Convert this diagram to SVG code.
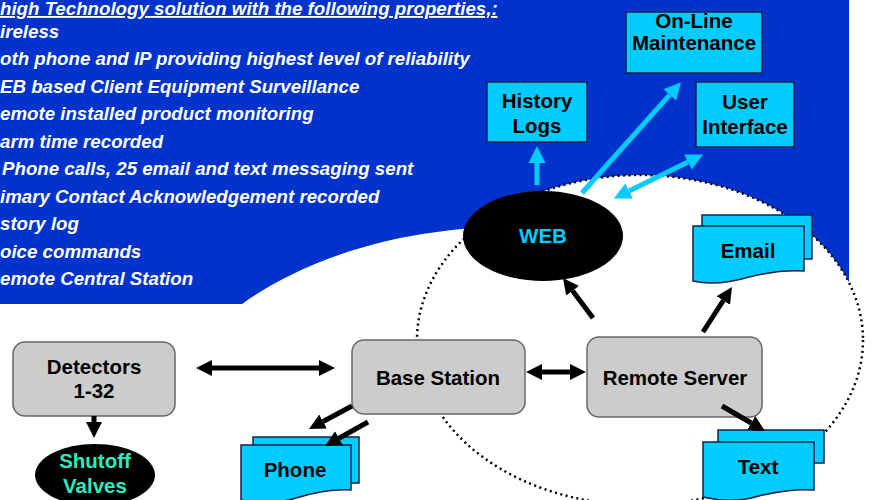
<svg xmlns="http://www.w3.org/2000/svg" width="872" height="500" viewBox="0 0 872 500">
<defs>
<style>
.body{font-family:"Liberation Sans",Arial,sans-serif;font-weight:bold;font-style:italic;font-size:18.7px;fill:#fff}
.lbl{font-family:"Liberation Sans",Arial,sans-serif;font-weight:bold;font-size:20.5px;fill:#000;text-anchor:middle}
.cy{fill:#00CCFF;stroke:#14204a;stroke-width:1.5}
.gr{fill:#CCCCCC;stroke:#666;stroke-width:1.5}
.blk{stroke:#000;stroke-width:5;fill:none}
.cyl{stroke:#00CCFF;stroke-width:5;fill:none}
</style>
<marker id="hb" viewBox="0 0 10 10" refX="0" refY="5" markerUnits="userSpaceOnUse" markerWidth="16" markerHeight="17" orient="auto-start-reverse"><path d="M0,0 L10,5 L0,10 Z" fill="#000"/></marker>
<marker id="hc" viewBox="0 0 10 10" refX="0" refY="5" markerUnits="userSpaceOnUse" markerWidth="17" markerHeight="19" orient="auto-start-reverse"><path d="M0,0 L10,5 L0,10 Z" fill="#00CCFF"/></marker>
</defs>

<g id="background">
<rect x="0" y="0" width="849" height="304" fill="#0033CC"/>
<path d="M0,304 H242 C270,284 320,255 400,238 C430,232 460,229 482,227 L482,500 L0,500 Z" fill="#fff"/>
<ellipse cx="640" cy="340" rx="223" ry="165" fill="#fff"/>
<ellipse cx="640" cy="340" rx="223" ry="165" fill="none" stroke="#000" stroke-width="2.5" stroke-dasharray="2 3.5"/>
</g>

<g id="properties">
<text class="body" x="0" y="15" text-decoration="underline">high Technology solution with the following properties,:</text>
<text class="body" x="0" y="38">ireless</text>
<text class="body" x="0" y="65">oth phone and IP providing highest level of reliability</text>
<text class="body" x="0" y="93">EB based Client Equipment Surveillance</text>
<text class="body" x="0" y="120">emote installed product monitoring</text>
<text class="body" x="0" y="148">arm time recorded</text>
<text class="body" x="2" y="175">Phone calls, 25 email and text messaging sent</text>
<text class="body" x="0" y="203">imary Contact Acknowledgement recorded</text>
<text class="body" x="0" y="230">story log</text>
<text class="body" x="0" y="258">oice commands</text>
<text class="body" x="0" y="285">emote Central Station</text>
</g>

<g id="history-logs">
<rect class="cy" x="487" y="82" width="100" height="60"/>
<text class="lbl" x="537" y="108">History</text>
<text class="lbl" x="537" y="133">Logs</text>
</g>

<g id="online-maintenance">
<rect class="cy" x="626" y="12" width="136" height="61"/>
<text class="lbl" x="694" y="27.5">On-Line</text>
<text class="lbl" x="694" y="50">Maintenance</text>
</g>

<g id="user-interface">
<rect class="cy" x="696" y="82" width="98" height="65"/>
<text class="lbl" x="745" y="109">User</text>
<text class="lbl" x="745" y="134">Interface</text>
</g>

<g id="web">
<ellipse cx="543" cy="236" rx="80" ry="45" fill="#000"/>
<text class="lbl" x="543" y="243" style="fill:#00CCFF">WEB</text>
</g>

<g id="email">
<rect class="cy" x="702" y="215" width="110" height="44"/>
<path class="cy" d="M693,226 H804 V271 C789,270 769,272 749,277 C729,283 710,285 693,281 Z"/>
<text class="lbl" x="748" y="258">Email</text>
</g>

<g id="detectors">
<rect class="gr" x="13" y="342" width="162" height="74" rx="12"/>
<text class="lbl" x="94" y="374">Detectors</text>
<text class="lbl" x="94" y="398">1-32</text>
</g>

<g id="base-station">
<rect class="gr" x="352" y="340" width="173" height="74" rx="12"/>
<text class="lbl" x="438" y="385">Base Station</text>
</g>

<g id="remote-server">
<rect class="gr" x="587" y="337" width="175" height="80" rx="12"/>
<text class="lbl" x="675" y="385">Remote Server</text>
</g>

<g id="shutoff-valves">
<ellipse cx="95" cy="475" rx="60" ry="31" fill="#000"/>
<text class="lbl" x="95" y="468" style="fill:#2EEBBE">Shutoff</text>
<text class="lbl" x="95" y="493" style="fill:#2EEBBE">Valves</text>
</g>

<g id="phone">
<rect class="cy" x="253" y="437" width="106" height="46"/>
<path class="cy" d="M241,445 H351 V490 C336,489 316,492 296,498 C276,504 258,505 241,500 Z"/>
<text class="lbl" x="295" y="477">Phone</text>
</g>

<g id="text">
<rect class="cy" x="718" y="430" width="106" height="33"/>
<path class="cy" d="M703,442 H814 V490 C799,489 779,491 759,496 C739,502 720,501 703,497 Z"/>
<text class="lbl" x="758" y="474">Text</text>
</g>

<g id="connectors">
<path class="blk" d="M212,368 H319" marker-start="url(#hb)" marker-end="url(#hb)"/>
<path class="blk" d="M542,372 H570" marker-start="url(#hb)" marker-end="url(#hb)"/>
<path class="blk" d="M94,416 V422" marker-end="url(#hb)"/>
<path class="blk" d="M593,318 L572.6,290.8" marker-end="url(#hb)"/>
<path class="blk" d="M703,332 L723.3,300.5" marker-end="url(#hb)"/>
<path class="blk" d="M722,406 L751.2,423" marker-end="url(#hb)"/>
<path class="blk" d="M352,406 L323.1,421.5" marker-end="url(#hb)"/>
<path class="blk" d="M368,422 L339,438.2" marker-end="url(#hb)"/>
<path class="cyl" d="M537,185 V163" marker-end="url(#hc)"/>
<path class="cyl" d="M582,193 L669.7,94.9" marker-end="url(#hc)"/>
<path class="cyl" d="M629.1,191 L687.9,162" marker-start="url(#hc)" marker-end="url(#hc)"/>
</g>
</svg>
